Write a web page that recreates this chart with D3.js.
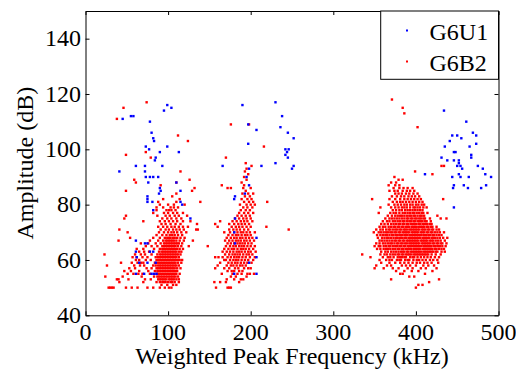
<!DOCTYPE html>
<html>
<head>
<meta charset="utf-8">
<script src="https://cdn.jsdelivr.net/npm/d3@7"></script>
<style>
  body { margin: 0; background: #fff; }
  #chart { position: relative; width: 516px; height: 370px; }
  #chart svg { position: absolute; left: 0; top: 0; }
  .axis path, .axis line { stroke: #000; stroke-width: 1; }
</style>
</head>
<body>
<div id="chart"></div>
<script>
// tick values
var xTicks = [0, 100, 200, 300, 400, 500];
var yTicks = [40, 60, 80, 100, 120, 140];

// G6U1 points: [frequency kHz, amplitude dB]
var g6u1 = [
  [41,92],[45,111],[55,112],[58,112],[61,94],[72,94],[72,92],[73,90],[73,101],[77,100],
  [78,110],[80,106],[82,104],[83,103],[84,96],[85,97],[78,90],[82,90],[88,90],[76,88],
  [90,99],[93,94],[95,114],[99,116],[104,115],[99,101],[113,99],[91,85],[90,86],[89,84],
  [75,83],[75,82],[75,81],[81,81],[82,78],[110,88],[115,81],[117,80],[115,85],[127,75],
  [61,67],[61,63],[62,61],[61,55],[71,55],[80,55],[83,55],[86,55],[65,59],[75,59],
  [78,63],[82,63],[85,59],[75,66],[72,66],
  [166,94],[190,116],[197,109],[197,102],[207,107],[198,93],[195,90],[198,87],[193,84],
  [181,83],[180,82],[181,75],[180,70],[181,66],[207,68],[207,61],[207,55],[198,59],[180,55],
  [213,94],[230,117],[238,112],[236,108],[245,106],[252,104],[230,95],[242,100],[244,99],
  [242,98],[245,97],[246,100],[250,93],[252,94],
  [434,114],[461,110],[444,105],[450,105],[441,103],[435,101],[455,104],[469,106],[473,105],
  [473,102],[465,101],[431,97],[438,96],[446,96],[452,96],[446,99],[448,99],[452,95],[454,94],
  [456,93],[450,94],[444,90],[454,90],[464,90],[467,98],[467,97],[475,94],[481,93],[484,91],
  [491,90],[485,87],[458,87],[463,86],[446,87],[445,86],[479,86],[452,91],[411,91],[446,79]
];

// G6B2 points, one row per amplitude (dB): "amplitude: frequencies (kHz)"
var g6b2Rows = [
  "50: 28 30 32 34 49 56 63 75 82 90 96 101 104 158 172 174 176 400",
  "51: 92 99 106 110 403 408",
  "52: 41 70 86 90 93 95 97 100 103 105 108 113 156 163 170 186 416",
  "53: 38 40 52 72 79 88 90 92 94 96 98 101 103 105 107 110 113 171 180 188 191 370 428",
  "54: 24 45 68 83 87 89 91 93 95 97 99 101 103 105 107 109 112 176 182 195 392 398",
  "55: 51 58 64 69 78 86 88 90 92 94 96 98 100 102 104 106 108 110 114 165 178 184 189 196 199 204 381 384 411",
  "56: 47 55 65 76 84 87 89 91 93 95 97 99 101 103 105 107 109 111 172 177 180 186 190 376 386 395 403 420",
  "57: 53 60 74 80 86 88 90 92 94 96 98 100 102 104 106 108 111 115 157 168 174 181 185 192 197 200 350 361 372 379 390 396 406 412 425",
  "58: 26 59 66 71 82 85 88 90 92 94 96 98 100 102 104 106 108 110 113 160 171 176 179 183 187 190 194 352 365 370 383 388 393 400 409 415 422",
  "59: 43 56 63 67 70 84 87 89 91 93 95 97 99 101 103 105 107 109 112 116 163 173 177 181 184 188 192 196 201 358 368 375 381 386 391 396 401 405 410 414 419 427",
  "60: 61 65 73 79 86 88 90 92 94 96 98 100 102 104 106 108 110 112 114 117 168 170 175 179 182 185 189 193 197 203 356 364 368 371 377 380 382 387 390 392 397 401 404 408 412 417 421 426",
  "61: 57 62 69 75 85 88 90 92 94 96 98 100 102 104 106 108 110 113 157 161 166 172 176 180 183 186 190 194 199 205 345 360 366 369 373 378 381 383 386 388 393 396 398 402 406 410 414 418 423 428",
  "62: 23 60 67 72 80 87 90 92 94 96 98 100 102 104 106 108 110 112 115 169 174 178 181 184 187 191 195 198 202 335 357 362 365 369 372 375 378 380 383 385 388 390 392 394 397 399 401 403 405 407 409 411 413 415 419 424 430",
  "63: 65 71 77 89 92 94 96 98 100 102 104 106 108 110 113 116 166 171 175 179 183 186 189 193 197 200 206 358 363 366 370 373 376 379 382 384 386 389 391 394 396 398 400 402 404 406 409 411 413 415 417 419 421 424 426 431 435",
  "64: 62 70 83 90 93 95 97 99 101 103 105 107 109 111 114 118 168 173 177 180 184 188 191 194 198 203 353 357 361 364 366 369 372 375 378 380 383 385 388 390 392 394 397 399 401 403 405 408 410 412 414 416 418 420 423 425 428 431 434",
  "65: 73 80 87 93 95 97 99 101 103 105 107 109 112 116 125 148 170 175 179 182 186 189 192 196 200 205 350 355 357 361 364 367 369 372 375 377 380 382 385 387 390 392 394 396 398 400 402 404 406 409 411 413 415 417 419 422 424 427 429 432 436",
  "66: 67 76 85 91 95 97 99 101 103 105 107 109 111 113 117 172 176 180 184 187 190 193 197 201 352 356 360 363 366 369 371 374 377 379 382 384 387 389 392 394 396 398 400 402 404 407 409 411 413 415 417 420 422 425 427 430 432 437",
  "67: 40 78 88 94 97 99 101 103 105 107 110 114 119 130 169 174 178 182 185 188 192 195 199 204 356 359 362 365 368 371 374 376 379 381 384 386 389 391 393 395 397 399 401 403 406 408 410 412 414 417 419 421 424 427 430 435",
  "68: 54 82 90 96 99 101 103 106 108 111 115 120 171 176 180 183 187 190 194 198 202 354 359 362 365 367 370 373 376 378 381 383 386 388 391 393 395 397 399 401 403 405 408 410 412 414 416 419 421 423 426 429 433 438",
  "69: 86 93 98 102 105 108 112 117 173 178 182 185 189 193 196 200 353 357 360 363 365 368 371 373 376 378 381 383 386 388 390 393 395 397 399 401 403 405 407 410 412 415 417 420 422 425 428 431",
  "70: 51 89 95 100 104 107 111 116 122 168 175 180 184 188 191 195 199 205 349 355 358 361 364 366 369 371 374 376 379 381 384 386 388 390 392 395 397 399 401 403 406 408 410 413 415 418 420 423 426 429 434",
  "71: 41 91 97 101 106 110 114 119 134 136 174 179 183 187 192 197 246 352 357 360 364 367 369 372 375 377 380 382 385 387 389 392 394 396 398 400 402 404 407 409 411 414 416 419 421 425 428",
  "72: 88 94 99 104 108 113 118 124 160 177 182 186 190 195 200 219 356 360 363 367 370 373 375 378 380 383 385 388 390 392 395 397 399 401 404 406 408 410 413 415 418 420 425",
  "73: 92 97 103 109 115 135 157 174 180 185 189 193 198 358 362 366 370 373 376 379 381 384 386 389 391 394 396 398 400 403 405 408 410 412 414 417 419",
  "74: 70 90 96 101 106 111 118 127 163 178 183 188 192 196 202 360 365 368 372 375 378 381 384 386 389 392 394 397 399 402 404 406 408 411 413 418",
  "75: 47 93 99 104 110 116 181 186 191 195 200 363 368 371 374 377 380 383 386 389 391 394 396 399 401 404 406 409 411 417 430 437",
  "76: 49 87 97 102 108 113 123 184 189 194 199 366 371 375 378 381 383 386 389 392 394 397 399 402 405 407 410 426",
  "77: 82 95 100 106 111 118 186 192 197 203 355 369 373 376 380 384 387 390 393 396 398 401 404 407 409 414",
  "78: 86 98 101 104 109 188 194 199 372 376 380 383 387 390 393 396 399 402 405 408",
  "79: 86 94 103 107 112 191 196 202 357 370 375 379 383 386 389 393 397 399 402 405 409 413",
  "80: 90 100 107 120 187 195 200 205 367 374 378 382 386 389 393 396 400 403 407 410",
  "81: 88 110 139 192 198 203 220 372 377 381 384 388 392 396 400 404 408",
  "82: 94 114 189 196 201 347 368 375 381 386 390 394 398 402 406 433",
  "83: 105 193 199 371 377 382 386 391 395 399 404",
  "84: 110 190 197 203 375 379 383 388 392 397 402",
  "85: 49 129 194 368 374 378 384 389 393 398",
  "86: 132 172 176 191 200 373 380 385 390 396",
  "87: 91 165 192 367 375 380",
  "88: 61 110 189 370 376",
  "89: 59 126 195 379 384",
  "90: 192 374",
  "91: 197 420",
  "92: 115 193 399",
  "93: 195",
  "94: 201 431 434",
  "95: 194",
  "97: 79 170",
  "98: 49",
  "99: 73",
  "101: 216",
  "103: 124",
  "105: 112",
  "108: 402",
  "109: 176 198",
  "111: 38",
  "113: 386",
  "115: 46 384",
  "117: 74",
  "118: 371"
];

var g6b2 = [];
g6b2Rows.forEach(function (row) {
    var parts = row.split(":");
    var amp = +parts[0];
    parts[1].trim().split(/\s+/).forEach(function (f) { g6b2.push([+f, amp]); });
});

var width = 516, height = 370;
var plot = {left: 85.5, right: 498.5, top: 11, bottom: 315.3};
var serif = "'Liberation Serif'";
var fontSize = "24px";

var x = d3.scaleLinear().domain([0, 500]).range([plot.left, plot.right]);
var y = d3.scaleLinear().domain([40, 150]).range([plot.bottom, plot.top]);

// marks and axis lines
var svg = d3.select("#chart").append("svg")
    .attr("width", width)
    .attr("height", height);

svg.append("g").selectAll("rect")
    .data(g6b2).enter().append("rect")
    .attr("x", function (d) { return x(d[0]) - 1.2; })
    .attr("y", function (d) { return y(d[1]) - 1.2; })
    .attr("width", 2.4).attr("height", 2.4)
    .attr("fill", "#ff0000");

svg.append("g").selectAll("rect")
    .data(g6u1).enter().append("rect")
    .attr("x", function (d) { return x(d[0]) - 1.2; })
    .attr("y", function (d) { return y(d[1]) - 1.2; })
    .attr("width", 2.4).attr("height", 2.4)
    .attr("fill", "#0000ff");

// ticks inside like MATLAB; labels go on the text layer
svg.append("g").attr("class", "axis")
    .attr("transform", "translate(0," + plot.bottom + ")")
    .call(d3.axisBottom(x).tickValues(xTicks).tickSizeInner(-4).tickSizeOuter(0).tickFormat(""));
svg.append("g").attr("class", "axis")
    .attr("transform", "translate(" + plot.left + ",0)")
    .call(d3.axisLeft(y).tickValues(yTicks).tickSizeInner(-4).tickSizeOuter(0).tickFormat(""));
svg.append("g").attr("class", "axis")
    .attr("transform", "translate(0," + plot.top + ")")
    .call(d3.axisTop(x).tickValues(xTicks).tickSizeInner(-4).tickSizeOuter(0).tickFormat(""));
svg.append("g").attr("class", "axis")
    .attr("transform", "translate(" + plot.right + ",0)")
    .call(d3.axisRight(y).tickValues(yTicks).tickSizeInner(-4).tickSizeOuter(0).tickFormat(""));

// legend box and markers
var legendItems = [["G6U1", "#0000ff", 31], ["G6B2", "#ff0000", 62]];
svg.append("rect")
    .attr("x", 380.7).attr("y", plot.top)
    .attr("width", plot.right - 380.7).attr("height", 79.3 - plot.top)
    .attr("fill", "#fff").attr("stroke", "#000").attr("stroke-width", 1);
legendItems.forEach(function (d) {
    svg.append("rect")
        .attr("x", 406).attr("y", d[2] - 1.5)
        .attr("width", 2).attr("height", 2)
        .attr("fill", d[1]);
});

// separate light layer for all text
var txt = d3.select("#chart").append("svg")
    .attr("width", width)
    .attr("height", height);

txt.selectAll(".xlab").data(xTicks).enter().append("text")
    .attr("class", "xlab")
    .attr("x", function (d) { return x(d); })
    .attr("y", plot.bottom + 24.5)
    .attr("text-anchor", "middle")
    .text(function (d) { return d; });

txt.selectAll(".ylab").data(yTicks).enter().append("text")
    .attr("class", "ylab")
    .attr("x", plot.left - 4.5)
    .attr("y", function (d) { return y(d) + 7.7; })
    .attr("text-anchor", "end")
    .text(function (d) { return d; });

txt.append("text")
    .attr("x", (plot.left + plot.right) / 2)
    .attr("y", 364)
    .attr("text-anchor", "middle")
    .text("Weighted Peak Frequency (kHz)");

txt.append("text")
    .attr("transform", "translate(33," + (plot.top + plot.bottom) / 2 + ") rotate(-90)")
    .attr("text-anchor", "middle")
    .text("Amplitude (dB)");

legendItems.forEach(function (d) {
    txt.append("text")
        .attr("x", 429.5).attr("y", d[2] + 8.5)
        .text(d[0]);
});

txt.selectAll("text")
    .style("font-family", serif)
    .style("font-size", fontSize)
    .style("fill", "#000");
</script>
</body>
</html>
